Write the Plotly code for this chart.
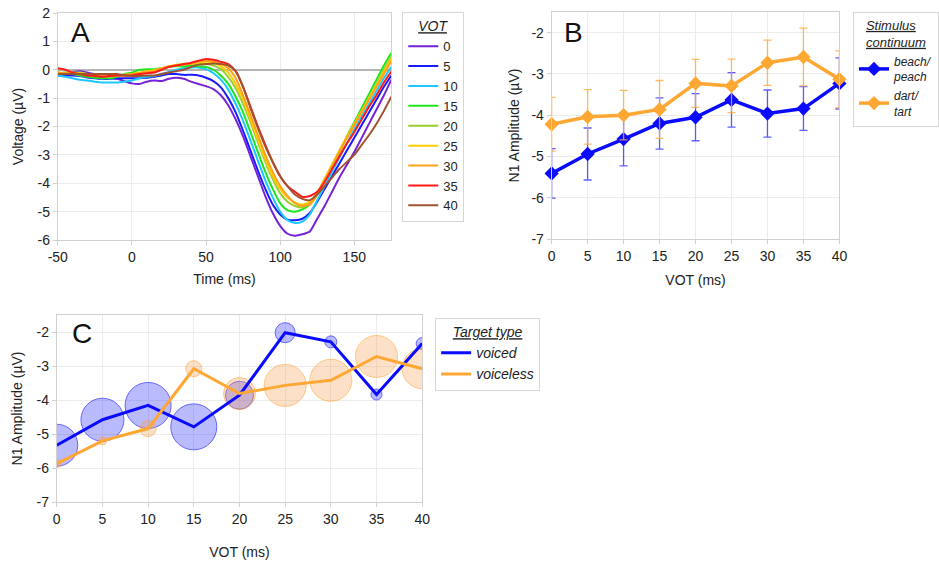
import plotly.graph_objects as go

FONT = "Liberation Sans, Arial, sans-serif"

# ---------------- Panel A data: ERP waveforms ----------------
time_ms = list(range(-50, 180, 5))
vot_labels = ["0", "5", "10", "15", "20", "25", "30", "35", "40"]
vot_colors = ["#7522d8", "#1a1aff", "#1ec8ff", "#1ee61e", "#9acd32",
              "#ffcc00", "#ff9f1a", "#ff1a1a", "#a0522d"]

erp_0 = [-0.2, -0.15, -0.08, -0.05, -0.1, -0.15, -0.22, -0.28, -0.32, -0.4, -0.48, -0.5, -0.42, -0.38, -0.4, -0.32, -0.28, -0.32, -0.42, -0.5, -0.58,
         -0.68, -0.9, -1.25, -1.75, -2.35, -3.05, -3.75, -4.45, -5.05, -5.5, -5.78, -5.85, -5.8, -5.7, -5.25, -4.8, -4.3, -3.8, -3.35, -2.9, -2.4, -1.9, -1.4, -0.9, -0.35]
erp_5 = [-0.2, -0.2, -0.2, -0.22, -0.27, -0.3, -0.32, -0.32, -0.3, -0.3, -0.3, -0.3, -0.28, -0.25, -0.2, -0.15, -0.15, -0.18, -0.18, -0.2, -0.28,
         -0.4, -0.62, -1.0, -1.5, -2.15, -2.85, -3.55, -4.2, -4.75, -5.1, -5.28, -5.3, -5.25, -5.05, -4.65, -4.2, -3.75, -3.3, -2.85, -2.4, -1.95, -1.5, -1.05, -0.6, -0.2]
erp_10 = [-0.2, -0.25, -0.3, -0.35, -0.38, -0.42, -0.45, -0.45, -0.45, -0.42, -0.38, -0.3, -0.25, -0.22, -0.15, -0.08, 0.0, 0.05, 0.08, 0.08, 0.02,
          -0.12, -0.35, -0.7, -1.2, -1.8, -2.5, -3.2, -3.9, -4.5, -5.0, -5.3, -5.4, -5.35, -5.1, -4.6, -4.1, -3.6, -3.1, -2.6, -2.1, -1.65, -1.2, -0.75, -0.3, 0.1]
erp_15 = [-0.15, -0.1, -0.15, -0.2, -0.25, -0.28, -0.3, -0.3, -0.25, -0.15, -0.1, 0.0, 0.02, 0.02, 0.05, 0.1, 0.12, 0.12, 0.15, 0.12, 0.1,
          0.0, -0.2, -0.5, -0.95, -1.5, -2.2, -2.9, -3.6, -4.2, -4.7, -4.95, -5.0, -4.92, -4.75, -4.4, -3.9, -3.4, -2.9, -2.35, -1.85, -1.35, -0.85, -0.35, 0.15, 0.6]
erp_20 = [-0.1, -0.12, -0.1, -0.1, -0.15, -0.2, -0.22, -0.25, -0.22, -0.2, -0.18, -0.15, -0.1, -0.05, 0.0, 0.1, 0.15, 0.18, 0.2, 0.2, 0.2,
          0.15, 0.02, -0.25, -0.65, -1.2, -1.85, -2.55, -3.25, -3.85, -4.35, -4.65, -4.8, -4.85, -4.7, -4.35, -3.85, -3.35, -2.85, -2.4, -1.95, -1.5, -1.0, -0.5, 0.0, 0.47]
erp_25 = [-0.15, -0.15, -0.12, -0.12, -0.15, -0.2, -0.22, -0.22, -0.2, -0.18, -0.15, -0.1, -0.05, -0.02, 0.05, 0.12, 0.18, 0.2, 0.22, 0.25, 0.28,
          0.25, 0.12, -0.1, -0.5, -1.05, -1.75, -2.45, -3.15, -3.75, -4.2, -4.5, -4.68, -4.75, -4.65, -4.35, -3.85, -3.35, -2.85, -2.35, -1.9, -1.45, -1.0, -0.55, -0.08, 0.4]
erp_30 = [-0.1, -0.12, -0.15, -0.15, -0.18, -0.2, -0.2, -0.2, -0.18, -0.18, -0.15, -0.12, -0.08, -0.05, 0.05, 0.12, 0.15, 0.18, 0.22, 0.3, 0.32,
          0.28, 0.2, 0.05, -0.3, -0.9, -1.6, -2.3, -3.0, -3.6, -4.1, -4.45, -4.7, -4.8, -4.75, -4.4, -3.9, -3.4, -2.9, -2.4, -1.95, -1.5, -1.05, -0.6, -0.15, 0.3]
erp_35 = [0.05, 0.0, -0.1, -0.15, -0.2, -0.22, -0.25, -0.22, -0.2, -0.2, -0.2, -0.15, -0.12, -0.1, 0.0, 0.1, 0.15, 0.2, 0.25, 0.32, 0.38,
          0.35, 0.28, 0.2, -0.05, -0.6, -1.3, -2.0, -2.65, -3.25, -3.75, -4.1, -4.3, -4.48, -4.45, -4.3, -3.95, -3.5, -3.05, -2.6, -2.2, -1.75, -1.3, -0.9, -0.45, -0.06]
erp_40 = [-0.15, -0.15, -0.15, -0.15, -0.15, -0.15, -0.15, -0.15, -0.15, -0.2, -0.22, -0.22, -0.2, -0.2, -0.15, -0.1, -0.05, 0.0, 0.1, 0.18, 0.2,
          0.22, 0.2, 0.15, -0.05, -0.6, -1.35, -2.05, -2.7, -3.25, -3.75, -4.1, -4.4, -4.55, -4.6, -4.4, -4.1, -3.8, -3.5, -3.25, -3.0, -2.65, -2.3, -1.9, -1.45, -0.95]
erp_curves = [erp_0, erp_5, erp_10, erp_15, erp_20, erp_25, erp_30, erp_35, erp_40]

a_xticks = [-50, 0, 50, 100, 150]
a_xtick_text = ["-50", "0", "50", "100", "150"]
a_yticks = [-6, -5, -4, -3, -2, -1, 0, 1, 2]
a_ytick_text = ["-6", "-5", "-4", "-3", "-2", "-1", "0", "1", "2"]

# ---------------- Panel B data ----------------
vot = [0, 5, 10, 15, 20, 25, 30, 35, 40]
vot_text = ["0", "5", "10", "15", "20", "25", "30", "35", "40"]
amp_ticks = [-7, -6, -5, -4, -3, -2]
amp_tick_text = ["-7", "-6", "-5", "-4", "-3", "-2"]
b_beach = [-5.41, -4.94, -4.58, -4.2, -4.05, -3.63, -3.96, -3.84, -3.23]
b_beach_err = [0.6, 0.63, 0.65, 0.62, 0.57, 0.66, 0.57, 0.53, 0.62]
b_dart = [-4.22, -4.04, -4.0, -3.86, -3.23, -3.29, -2.73, -2.59, -3.13]
b_dart_err = [0.65, 0.66, 0.6, 0.7, 0.58, 0.65, 0.55, 0.7, 0.69]

# ---------------- Panel C data ----------------
c_voiced = [-5.33, -4.58, -4.16, -4.79, -3.86, -2.02, -2.29, -3.84, -2.34]
c_voiced_size = [42, 43, 46, 46, 28, 20, 12, 11, 12]
c_voiceless = [-5.87, -5.2, -4.84, -3.08, -3.81, -3.57, -3.42, -2.72, -3.08]
c_voiceless_size = [8, 8, 16, 16, 32, 42, 42, 42, 40]

BLUE = "#0a0aff"
ORANGE = "#ffa733"

fig = go.Figure()

# Panel A traces
for lab, col, ys in zip(vot_labels, vot_colors, erp_curves):
    fig.add_trace(go.Scatter(x=time_ms, y=ys, mode="lines", name=lab,
                             line=dict(color=col, width=2, shape="spline", smoothing=0.6),
                             xaxis="x", yaxis="y", legend="legend"))

# Panel B traces
fig.add_trace(go.Scatter(x=vot, y=b_beach, mode="lines+markers", name="<i>beach/<br>peach</i>",
                         line=dict(color=BLUE, width=3.5),
                         marker=dict(symbol="diamond", size=11, color=BLUE),
                         error_y=dict(type="data", array=b_beach_err, color="rgba(40,40,255,0.75)",
                                      thickness=1.3, width=4),
                         cliponaxis=False, xaxis="x2", yaxis="y2", legend="legend2"))
fig.add_trace(go.Scatter(x=vot, y=b_dart, mode="lines+markers", name="<i>dart/<br>tart</i>",
                         line=dict(color=ORANGE, width=3.5),
                         marker=dict(symbol="diamond", size=11, color=ORANGE),
                         error_y=dict(type="data", array=b_dart_err, color="rgba(255,170,60,0.8)",
                                      thickness=1.3, width=4),
                         cliponaxis=False, xaxis="x2", yaxis="y2", legend="legend2"))

# Panel C traces
fig.add_trace(go.Scatter(x=vot, y=c_voiced, mode="markers", showlegend=False,
                         marker=dict(size=c_voiced_size, sizemode="diameter",
                                     color="rgba(50,50,255,0.48)",
                                     line=dict(color="rgba(20,20,255,0.9)", width=1)),
                         xaxis="x3", yaxis="y3"))
fig.add_trace(go.Scatter(x=vot, y=c_voiceless, mode="markers", showlegend=False,
                         marker=dict(size=c_voiceless_size, sizemode="diameter",
                                     color="rgba(248,160,85,0.45)",
                                     line=dict(color="rgba(255,165,60,0.9)", width=1)),
                         xaxis="x3", yaxis="y3"))
fig.add_trace(go.Scatter(x=vot, y=c_voiced, mode="lines", name="<i>voiced</i>",
                         line=dict(color=BLUE, width=3),
                         xaxis="x3", yaxis="y3", legend="legend3"))
fig.add_trace(go.Scatter(x=vot, y=c_voiceless, mode="lines", name="<i>voiceless</i>",
                         line=dict(color=ORANGE, width=3),
                         xaxis="x3", yaxis="y3", legend="legend3"))

W, H = 939, 565


def px_x(p):
    return p / W


def px_y(p):
    return 1 - p / H


axis_common = dict(showgrid=True, gridcolor="#ececec", gridwidth=1,
                   showline=True, linecolor="#d0d0d0", linewidth=1, mirror=True,
                   ticks="outside", ticklen=4, tickcolor="#d0d0d0",
                   tickfont=dict(family=FONT, size=14, color="#222"),
                   title_font=dict(family=FONT, size=14, color="#222"),
                   zeroline=False, automargin=False)

legend_common = dict(bgcolor="white", bordercolor="#d6d6d6", borderwidth=1,
                     xanchor="left", yanchor="top", itemwidth=30, tracegroupgap=0)

title_font = dict(family=FONT, size=14, color="#222")

fig.update_layout(
    width=W, height=H,
    margin=dict(l=0, r=0, t=0, b=0),
    paper_bgcolor="white", plot_bgcolor="white",
    font=dict(family=FONT, size=14, color="#222"),
    xaxis=dict(domain=[px_x(58), px_x(393)], range=[-50, 175],
               tickvals=a_xticks, ticktext=a_xtick_text,
               anchor="y", title=dict(text="Time (ms)", standoff=10), **axis_common),
    yaxis=dict(domain=[px_y(240), px_y(13)], range=[-6, 2],
               tickvals=a_yticks, ticktext=a_ytick_text,
               anchor="x", title=dict(text="Voltage (µV)", standoff=10), **axis_common),
    xaxis2=dict(domain=[px_x(554), px_x(843)], range=[0, 40],
                tickvals=vot, ticktext=vot_text,
                anchor="y2", title=dict(text="VOT (ms)", standoff=12), **axis_common),
    yaxis2=dict(domain=[px_y(239), px_y(12)], range=[-7, -1.5],
                tickvals=amp_ticks, ticktext=amp_tick_text,
                anchor="x2", title=dict(text="N1 Amplitude (µV)", standoff=8), **axis_common),
    xaxis3=dict(domain=[px_x(57), px_x(424)], range=[0, 40],
                tickvals=vot, ticktext=vot_text,
                anchor="y3", title=dict(text="VOT (ms)", standoff=21), **axis_common),
    yaxis3=dict(domain=[px_y(502), px_y(315)], range=[-7, -1.5],
                tickvals=amp_ticks, ticktext=amp_tick_text,
                anchor="x3", title=dict(text="N1 Amplitude (µV)", standoff=10), **axis_common),
    legend=dict(x=px_x(404), y=px_y(12),
                font=dict(family=FONT, size=13, color="#222"),
                title=dict(text="<i><u>VOT</u></i>", side="top center", font=title_font),
                **legend_common),
    legend2=dict(x=px_x(857), y=px_y(12),
                 font=dict(family=FONT, size=12, color="#222"),
                 title=dict(text="<i><u>Stimulus</u></i><br><i><u>continuum</u></i>",
                            side="top center", font=dict(family=FONT, size=13, color="#222")),
                 **legend_common),
    legend3=dict(x=px_x(437), y=px_y(318),
                 font=dict(family=FONT, size=14, color="#222"),
                 title=dict(text="<i><u>Target type</u></i>", side="top center", font=title_font),
                 **legend_common),
    annotations=[
        dict(text="A", x=px_x(69), y=px_y(32), xref="paper", yref="paper",
             xanchor="left", yanchor="middle", showarrow=False,
             font=dict(family=FONT, size=28, color="#111")),
        dict(text="B", x=px_x(564), y=px_y(32), xref="paper", yref="paper",
             xanchor="left", yanchor="middle", showarrow=False,
             font=dict(family=FONT, size=28, color="#111")),
        dict(text="C", x=px_x(70), y=px_y(333), xref="paper", yref="paper",
             xanchor="left", yanchor="middle", showarrow=False,
             font=dict(family=FONT, size=28, color="#111")),
    ],
)

# zero line for panel A
fig.layout.yaxis.zeroline = True
fig.layout.yaxis.zerolinecolor = "#b5b5b5"
fig.layout.yaxis.zerolinewidth = 1.5

fig.write_html("out.html", config={"displayModeBar": False},
               post_script="document.body.style.margin='0';document.body.style.overflow='hidden';")
